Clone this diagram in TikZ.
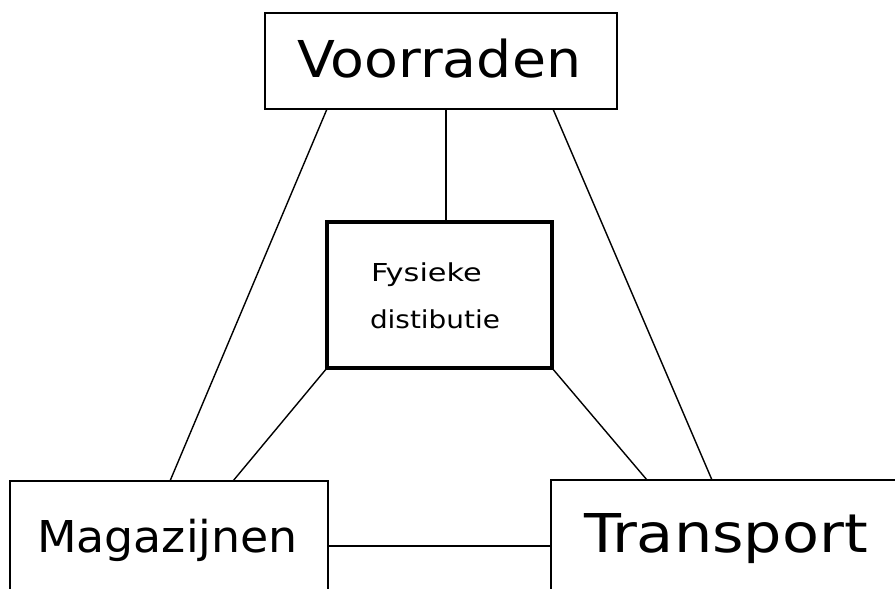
\documentclass[tikz,border=0pt]{standalone}
\usepackage{fontspec}
\setmainfont{DejaVu Sans}
\usetikzlibrary{positioning}
\tikzset{
  box/.style={draw, line width=1.5pt, inner sep=0pt, outer sep=0pt},
  thickbox/.style={draw, line width=3.6pt, inner sep=0pt, outer sep=0pt},
  conn/.style={line width=1.4pt},
  lbl/.style={inner sep=0pt, outer sep=0pt, anchor=base west}
}
\begin{document}
\begin{tikzpicture}[x=1pt,y=-1pt]
\useasboundingbox (0,0) rectangle (895,589);
\begin{scope}
\clip (0,0) rectangle (895,589);
% boxes
\node[box, minimum width=352pt, minimum height=96pt] (vo) at (441,61) {};
\node[thickbox, minimum width=225pt, minimum height=146pt] (fd) at (439.5,295) {};
\node[box, minimum width=318pt, minimum height=130pt] (mag) at (169,546) {};
\node[box, minimum width=354pt, minimum height=132pt] (tr) at (728,546) {};
% labels
\node[lbl] (tvo) at (297,77) {\scalebox{1.09}[1]{\fontsize{50.8}{60}\selectfont Voorraden}};
\node[lbl] (tfd1) at (371,281) {\scalebox{1.23}[1]{\fontsize{24.7}{30}\selectfont Fysieke}};
\node[lbl] (tfd2) at (370,328) {\scalebox{1.13}[1]{\fontsize{24.7}{30}\selectfont distibutie}};
\node[lbl] (tmag) at (37,552) {\scalebox{1.045}[1]{\fontsize{43.9}{52}\selectfont Magazijnen}};
\node[lbl] (ttr) at (584,552) {\scalebox{1.13}[1]{\fontsize{53.5}{64}\selectfont Transport}};
% connectors
\draw[conn] ([xshift=5pt]vo.south) -- ([xshift=6.5pt]fd.north);
\draw[conn] ([xshift=62pt]vo.south west) -- ([xshift=160pt]mag.north west);
\draw[conn] ([xshift=-64pt]vo.south east) -- ([xshift=161pt]tr.north west);
\draw[conn] (fd.south west) -- ([xshift=223pt]mag.north west);
\draw[conn] (fd.south east) -- ([xshift=96pt]tr.north west);
\draw[conn] (mag.east) -- (tr.west);
\end{scope}
\end{tikzpicture}
\end{document}
